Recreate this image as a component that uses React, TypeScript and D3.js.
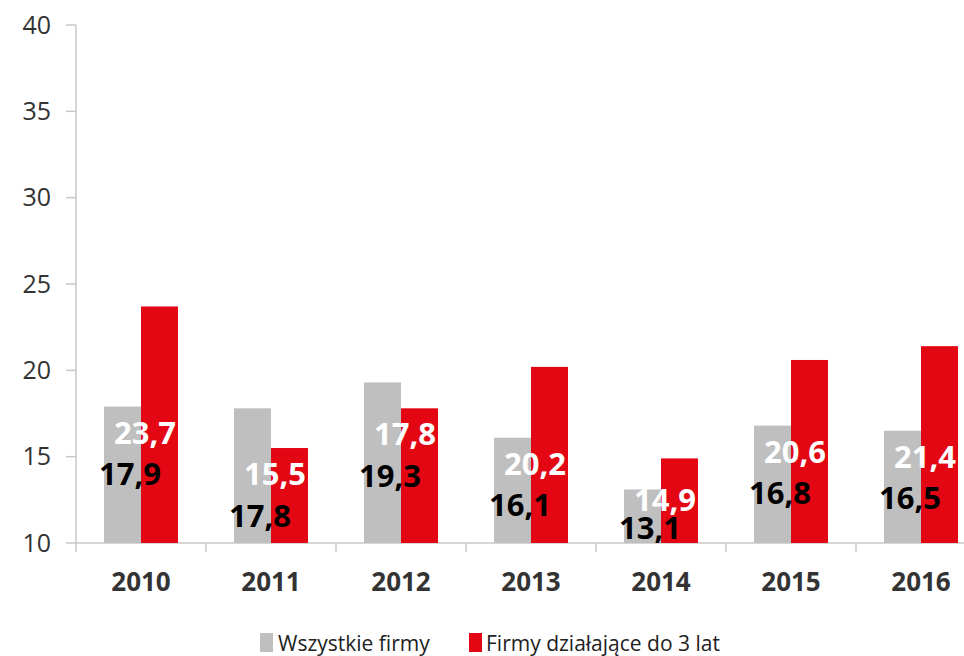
import React from "react";
import * as d3 from "d3";

const years = ["2010", "2011", "2012", "2013", "2014", "2015", "2016"];
const allFirms = [17.9, 17.8, 19.3, 16.1, 13.1, 16.8, 16.5];
const youngFirms = [23.7, 15.5, 17.8, 20.2, 14.9, 20.6, 21.4];
const yTicks = [10, 15, 20, 25, 30, 35, 40];
const seriesNames = ["Wszystkie firmy", "Firmy działające do 3 lat"];

const colors = { gray: "#bfbfbf", red: "#e30613" };
const font = "'Open Sans', 'Noto Sans', sans-serif";

export default function App() {
  const width = 964;
  const height = 656;

  // band runs past the right edge, the original picture is cropped there
  const x = d3.scaleBand().domain(years).range([76, 986]);
  const inner = d3.scaleBand().domain(["g", "r"]).range([0, 74]);
  const y = d3.scaleLinear().domain([10, 40]).range([543, 25]);

  const fmt = (v: number) => v.toFixed(1).replace(".", ",");

  return (
    <svg
      width={width}
      height={height}
      style={{ position: "absolute", left: 0, top: 0, background: "#fff" }}
    >
      {/* y axis */}
      <line x1={76} x2={76} y1={y(40)} y2={y(10)} stroke="#c8c8c8" strokeWidth={1.5} />
      {yTicks.map((t) => (
        <g key={t}>
          <line x1={66} x2={76} y1={y(t)} y2={y(t)} stroke="#c8c8c8" strokeWidth={1.5} />
          <text
            x={51}
            y={y(t)}
            dy="0.35em"
            textAnchor="end"
            fontFamily={font}
            fontSize={25}
            fill="#333"
          >
            {t}
          </text>
        </g>
      ))}

      {/* x axis */}
      <line x1={76} x2={986} y1={y(10)} y2={y(10)} stroke="#c8c8c8" strokeWidth={1.5} />
      {years.map((yr) => (
        <line
          key={"t" + yr}
          x1={x(yr)!}
          x2={x(yr)!}
          y1={y(10)}
          y2={y(10) + 9}
          stroke="#c8c8c8"
          strokeWidth={1.5}
        />
      ))}

      {/* bars */}
      {years.map((yr, i) => {
        const cx = x(yr)! + x.bandwidth() / 2;
        const left = cx - 37;
        return (
          <g key={yr}>
            <rect
              x={left + inner("g")!}
              y={y(allFirms[i])}
              width={inner.bandwidth()}
              height={y(10) - y(allFirms[i])}
              fill={colors.gray}
            />
            <rect
              x={left + inner("r")!}
              y={y(youngFirms[i])}
              width={inner.bandwidth()}
              height={y(10) - y(youngFirms[i])}
              fill={colors.red}
            />
            <text
              x={cx}
              y={591}
              textAnchor="middle"
              fontFamily={font}
              fontWeight="bold"
              fontSize={26}
              fill="#333"
            >
              {yr}
            </text>
          </g>
        );
      })}

      {/* data labels */}
      {years.map((yr, i) => {
        const cx = x(yr)! + x.bandwidth() / 2;
        let white = Math.min(allFirms[i], youngFirms[i]) - 1.5;
        const black = Math.max(white - 2.4, 10.9);
        white = Math.max(white, black + 1.6);
        return (
          <g key={"l" + yr} fontFamily={font} fontWeight="bold" fontSize={31} textAnchor="middle">
            <text x={cx + 4} y={y(white)} dy="0.36em" fill="#fff">
              {fmt(youngFirms[i])}
            </text>
            <text x={cx - 11} y={y(black)} dy="0.36em" fill="#000">
              {fmt(allFirms[i])}
            </text>
          </g>
        );
      })}

      {/* legend */}
      <g fontFamily={font} fontSize={21} fill="#222">
        <rect x={260} y={633} width={13} height={19} fill={colors.gray} />
        <text x={278} y={651}>{seriesNames[0]}</text>
        <rect x={469} y={633} width={13} height={19} fill={colors.red} />
        <text x={486} y={651}>{seriesNames[1]}</text>
      </g>
    </svg>
  );
}
